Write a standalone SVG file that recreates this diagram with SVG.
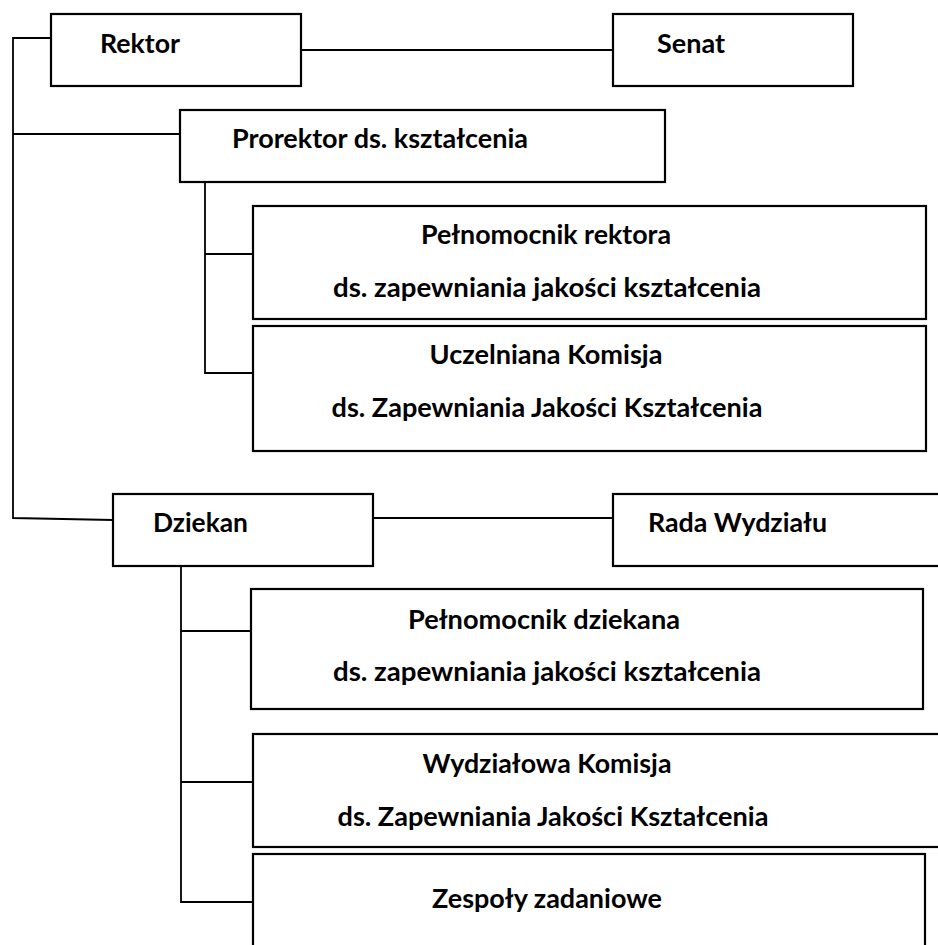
<svg xmlns="http://www.w3.org/2000/svg" width="938" height="945" viewBox="0 0 938 945">
<style>
.box{fill:#fff;stroke:#000;stroke-width:2.2}
.ln{fill:none;stroke:#000;stroke-width:1.8}
text{font-family:Lato,"Open Sans","Liberation Sans",sans-serif;font-weight:bold;font-size:26px;fill:#000}
.c{text-anchor:middle}
</style>
<rect width="938" height="945" fill="#fff"/>
<g id="connectors">
<polyline class="ln" points="51,38 13,38 13,518 113,520"/>
<line class="ln" x1="13" y1="134" x2="180" y2="134"/>
<line class="ln" x1="301" y1="50" x2="613" y2="50"/>
<polyline class="ln" points="205,182 205,373 253,373"/>
<line class="ln" x1="205" y1="254" x2="253" y2="254"/>
<line class="ln" x1="373" y1="518" x2="613" y2="518"/>
<polyline class="ln" points="181,566 181,902 253,902"/>
<line class="ln" x1="180" y1="631" x2="251" y2="631"/>
<line class="ln" x1="181" y1="782" x2="253" y2="782"/>
</g>
<g id="rektor">
<rect class="box" x="51" y="14" width="250" height="72"/>
<text x="100" y="53" textLength="80" lengthAdjust="spacingAndGlyphs">Rektor</text>
</g>
<g id="senat">
<rect class="box" x="613" y="14" width="240" height="72"/>
<text x="657" y="53" textLength="68" lengthAdjust="spacingAndGlyphs">Senat</text>
</g>
<g id="prorektor">
<rect class="box" x="180" y="110" width="485" height="72"/>
<text x="232" y="148" textLength="296" lengthAdjust="spacingAndGlyphs">Prorektor ds. kształcenia</text>
</g>
<g id="pelnomocnik-rektora">
<rect class="box" x="253" y="206" width="673" height="113"/>
<text class="c" x="546" y="244" textLength="250" lengthAdjust="spacingAndGlyphs">Pełnomocnik rektora</text>
<text class="c" x="547" y="297" textLength="428" lengthAdjust="spacingAndGlyphs">ds. zapewniania jakości kształcenia</text>
</g>
<g id="uczelniana-komisja">
<rect class="box" x="253" y="326" width="673" height="125"/>
<text class="c" x="546" y="364" textLength="233" lengthAdjust="spacingAndGlyphs">Uczelniana Komisja</text>
<text class="c" x="547" y="417" textLength="431" lengthAdjust="spacingAndGlyphs">ds. Zapewniania Jakości Kształcenia</text>
</g>
<g id="dziekan">
<rect class="box" x="113" y="494" width="260" height="72"/>
<text x="153" y="532" textLength="95" lengthAdjust="spacingAndGlyphs">Dziekan</text>
</g>
<g id="rada-wydzialu">
<rect class="box" x="613" y="494" width="340" height="72"/>
<text x="648" y="532" textLength="179" lengthAdjust="spacingAndGlyphs">Rada Wydziału</text>
</g>
<g id="pelnomocnik-dziekana">
<rect class="box" x="251" y="589" width="672" height="120"/>
<text class="c" x="544" y="629" textLength="272" lengthAdjust="spacingAndGlyphs">Pełnomocnik dziekana</text>
<text class="c" x="547" y="681" textLength="428" lengthAdjust="spacingAndGlyphs">ds. zapewniania jakości kształcenia</text>
</g>
<g id="wydzialowa-komisja">
<rect class="box" x="253" y="734" width="700" height="113"/>
<text class="c" x="547" y="773" textLength="249" lengthAdjust="spacingAndGlyphs">Wydziałowa Komisja</text>
<text class="c" x="553" y="826" textLength="431" lengthAdjust="spacingAndGlyphs">ds. Zapewniania Jakości Kształcenia</text>
</g>
<g id="zespoly-zadaniowe">
<rect class="box" x="253" y="854" width="672" height="110"/>
<text class="c" x="547" y="908" textLength="230" lengthAdjust="spacingAndGlyphs">Zespoły zadaniowe</text>
</g>
</svg>
